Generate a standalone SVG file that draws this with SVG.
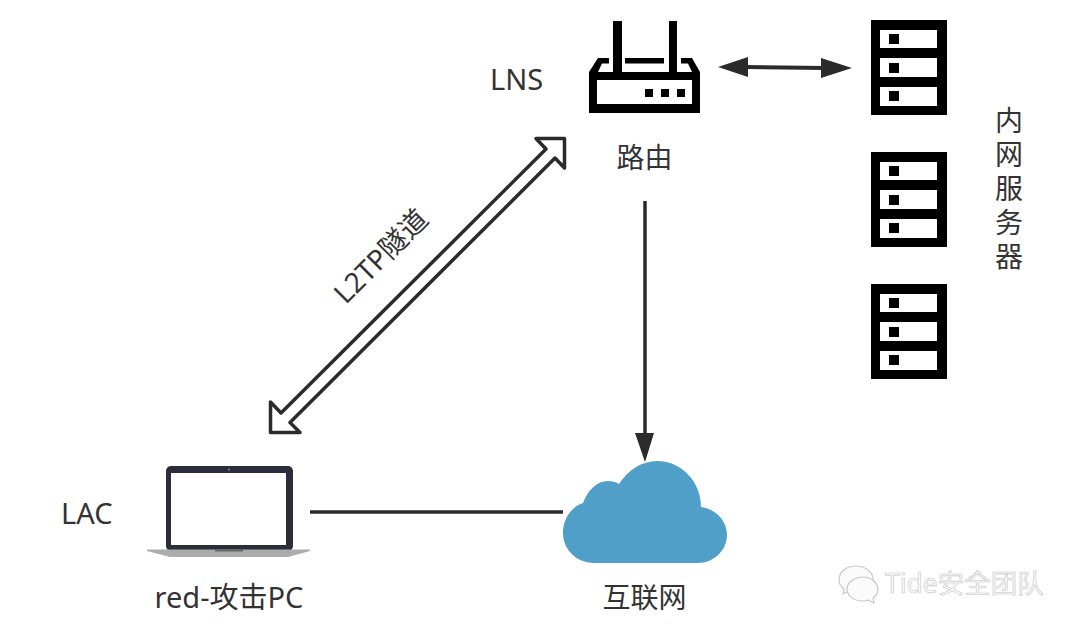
<svg xmlns="http://www.w3.org/2000/svg" width="1080" height="630" viewBox="0 0 1080 630">
<style>
.t{font-family:"Noto Sans","Noto Sans CJK SC",sans-serif;font-size:28px;fill:#333}
.e{font-size:29px}
.v{writing-mode:vertical-rl;letter-spacing:6px}
.k{fill:#000}
.w{fill:#fff}
.d{fill:#2b2b2b}
.wm{font-family:"Noto Sans","Noto Sans CJK SC",sans-serif;font-size:26.500px;fill:#fbfbfb;stroke:#c4c4c4;stroke-width:.6}
.wi{fill:#fbfbfb;stroke:#c8c8c8;stroke-width:1.2}
</style>
<defs>
<g id="srv">
<rect class="k" x="871" y="20" width="76" height="95"/>
<rect class="w" x="880" y="30" width="57" height="18"/>
<rect class="w" x="880" y="58" width="57" height="19"/>
<rect class="w" x="880" y="87" width="57" height="19"/>
<rect class="k" x="889" y="34" width="10" height="10"/>
<rect class="k" x="889" y="63" width="10" height="10"/>
<rect class="k" x="889" y="91" width="10" height="10"/>
</g>
</defs>
<rect width="1080" height="630" fill="#fff"/>
<g id="connectors">
<path d="M310 512H563" stroke="#2b2b2b" stroke-width="3.500" fill="none"/>
<path d="M645 201V436" stroke="#2b2b2b" stroke-width="3.500" fill="none"/>
<path class="d" d="M635 433H654L645 462Z"/>
<path d="M745 67L825 68" stroke="#2b2b2b" stroke-width="4" fill="none"/>
<path class="d" d="M718 67L748 57V77Z"/>
<path class="d" d="M852 68L821 58V78Z"/>
<path id="tunnel" d="M564.500 138.500H536L546 149L281 413L270.500 402V432.500H300L290 422.500L555 158L564.500 168Z" fill="#fff" stroke="#2b2b2b" stroke-width="3.500" stroke-linejoin="round"/>
<text class="t" text-anchor="middle" transform="translate(388 263) rotate(-45)">L2TP隧道</text>
</g>
<g id="router">
<rect class="k" x="613" y="21" width="9" height="55"/>
<rect class="k" x="669" y="21" width="8" height="55"/>
<rect class="k" x="625" y="58" width="39" height="5.500"/>
<path class="k" d="M589 72L598 58H609V63.500H602L597 74ZM700 72L692 58H681V63.500H688L693 74Z"/>
<path class="k" fill-rule="evenodd" d="M589 72H700V113H589ZM597 80V104H692V80Z"/>
<rect class="k" x="645" y="89" width="8" height="8"/>
<rect class="k" x="661" y="89" width="8" height="8"/>
<rect class="k" x="677" y="89" width="8" height="8"/>
<text class="t" x="644.500" y="168" text-anchor="middle">路由</text>
<text class="t e" x="490" y="90">LNS</text>
</g>
<g id="servers">
<use href="#srv"/>
<use href="#srv" y="132"/>
<use href="#srv" y="264"/>
<text class="t v" x="1008" y="106">内网服务器</text>
</g>
<g id="laptop">
<rect x="166" y="466" width="127" height="85" rx="5" fill="#2b2d3a"/>
<rect class="w" x="171" y="473" width="115" height="72"/>
<circle cx="229" cy="469.500" r="1" fill="#889"/>
<path d="M147 549.500H310V551L288 557H170L147 551Z" fill="#acacac"/>
<rect x="215" y="549.500" width="28" height="2" fill="#666"/>
<text class="t e" x="61" y="524">LAC</text>
<text class="t e" x="229" y="608" text-anchor="middle">red-攻击PC</text>
</g>
<g id="cloud">
<path fill="#4f9fc9" d="M594 563C576 563 563 549 563 533C563 519 571 507 583 503C588 490 597 481 608 481C612 481 616 482 619 484C628 470 642 461 657 461C682 461 701 482 701 507C716 509 727 521 727 535C727 550 714 563 698 563Z"/>
<text class="t" x="644.500" y="608" text-anchor="middle">互联网</text>
</g>
<g id="watermark">
<path class="wi" d="M856 566C846 566 839 572 839 580C839 584 841 587 844 589L843 594L849 591C851 592 853 592 856 592C865 592 873 586 873 579C873 572 865 566 856 566Z"/>
<path class="wi" d="M863 577C854 577 847 583 847 589C847 596 854 601 863 601C865 601 866 601 868 600L874 603L873 598C876 596 878 593 878 589C878 583 871 577 863 577Z"/>
<text class="wm" x="885" y="593">Tide安全团队</text>
</g>
</svg>
